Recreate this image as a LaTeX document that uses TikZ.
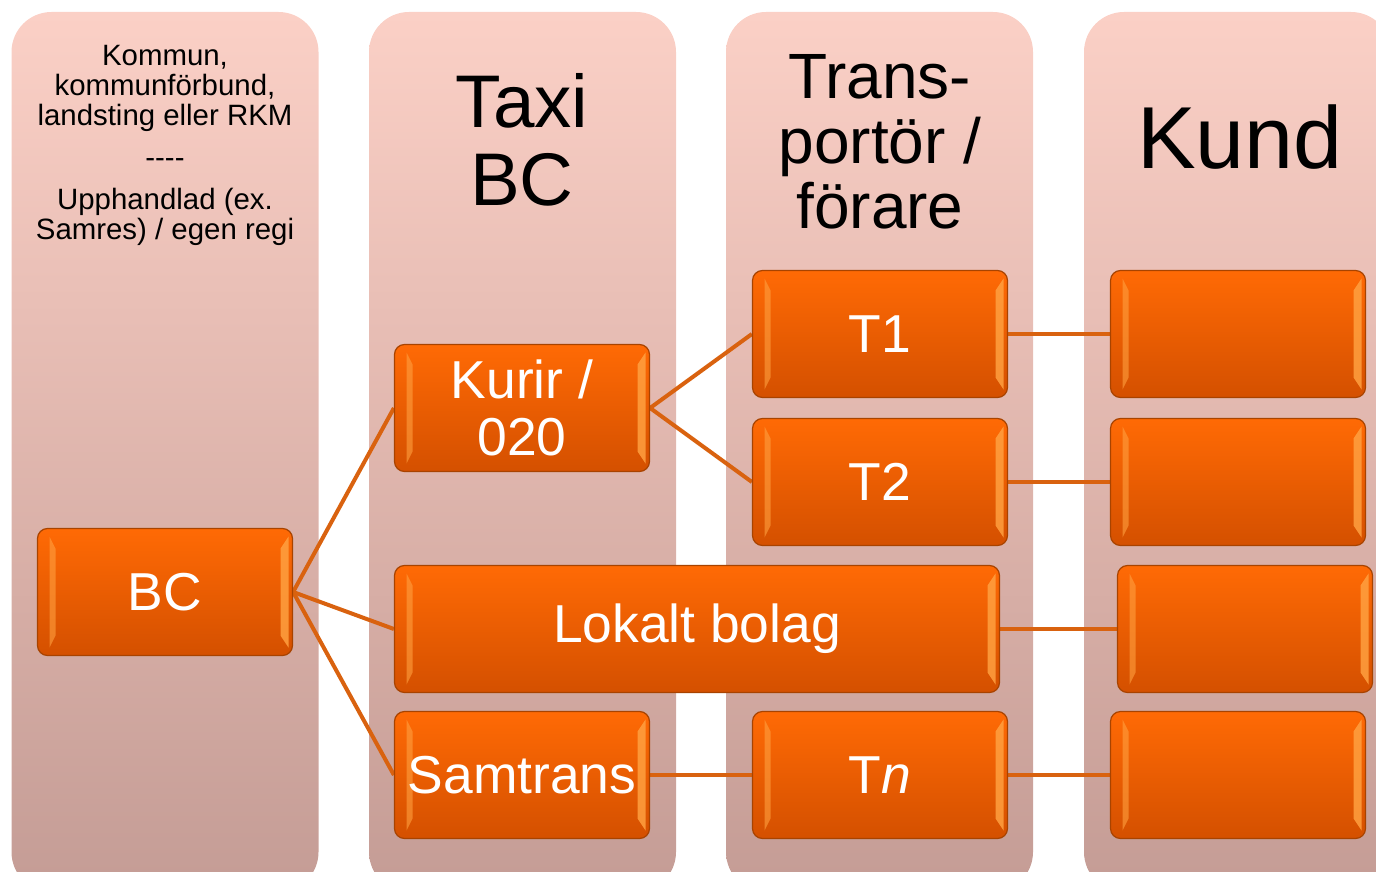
\documentclass[tikz,border=0pt]{standalone}
\usepackage{fontspec}
\setmainfont{Liberation Sans}
\usepackage{tikz}
\pgfdeclarelayer{columnlayer}
\pgfdeclarelayer{edgelayer}
\pgfdeclarelayer{nodelayer}
\pgfsetlayers{columnlayer,edgelayer,nodelayer,main}
\definecolor{colTop}{HTML}{FBD0C6}
\definecolor{colBottom}{HTML}{C49C95}
\definecolor{boxTop}{HTML}{FF6A05}
\definecolor{boxBottom}{HTML}{D45000}
\definecolor{boxLine}{HTML}{A84300}
\definecolor{boxLight}{HTML}{FFA040}
\definecolor{edgeCol}{HTML}{D9620F}
\tikzstyle{column} = [rounded corners=20pt, top color=colTop, bottom color=colBottom, minimum width=153.5pt, minimum height=440pt, inner sep=0pt]
\tikzstyle{box} = [draw=boxLine, line width=0.6pt, rounded corners=5pt, top color=boxTop, bottom color=boxBottom, text=white, font=\fontsize{26.7}{28.5}\selectfont, minimum width=127.5pt, minimum height=63.5pt, align=center, inner sep=0pt,
	path picture={
		\fill [boxLight, opacity=0.6, sharp corners] ([xshift=6pt, yshift=-4pt]path picture bounding box.north west) -- ([xshift=9pt, yshift=-10pt]path picture bounding box.north west) -- ([xshift=9pt, yshift=10pt]path picture bounding box.south west) -- ([xshift=6pt, yshift=4pt]path picture bounding box.south west) -- cycle;
		\fill [boxLight, opacity=0.85, sharp corners] ([xshift=-2pt, yshift=-4pt]path picture bounding box.north east) -- ([xshift=-6pt, yshift=-10pt]path picture bounding box.north east) -- ([xshift=-6pt, yshift=10pt]path picture bounding box.south east) -- ([xshift=-2pt, yshift=4pt]path picture bounding box.south east) -- cycle;
	}]
\tikzstyle{widebox} = [box, minimum width=302.5pt]
\tikzstyle{link} = [draw=edgeCol, line width=2pt]
\tikzstyle{none} = [inner sep=0pt, align=center]

\begin{document}
\begin{tikzpicture}[x=0.5pt, y=-0.5pt]
	\useasboundingbox (0, 0) rectangle (1376, 872);
	\clip (0, 0) rectangle (1376, 872);
	\begin{pgfonlayer}{columnlayer}
		\node [style=column] (col1) at (165, 452) {};
		\node [style=column] (col2) at (522.5, 452) {};
		\node [style=column] (col3) at (879.5, 452) {};
		\node [style=column] (col4) at (1237.5, 452) {};
	\end{pgfonlayer}
	\begin{pgfonlayer}{nodelayer}
		% column headings
		\node [style=none, font=\fontsize{14.7}{15}\selectfont] (head1) at (165, 145) {Kommun,\\kommunförbund,\\landsting eller RKM\\[6pt]{-}{-}{-}{-}\\[6pt]Upphandlad (ex.\\Samres) / egen regi};
		\node [style=none, font=\fontsize{37.3}{39}\selectfont] (head2) at (522, 140) {Taxi\\BC};
		\node [style=none, font=\fontsize{32}{32.5}\selectfont] (head3) at (880, 142) {Trans-\\portör /\\förare};
		\node [style=none, font=\fontsize{44}{44}\selectfont] (head4) at (1240, 137) {Kund};
		% boxes
		\node [style=box] (bc) at (165, 592) {BC};
		\node [style=box] (kurir) at (522, 408) {Kurir /\\020};
		\node [style=widebox] (lokalt) at (697, 629) {Lokalt bolag};
		\node [style=box] (samtrans) at (522, 775) {Samtrans};
		\node [style=box] (t1) at (880, 334) {T1};
		\node [style=box] (t2) at (880, 482) {T2};
		\node [style=box] (tn) at (880, 775) {T\textit{n}};
		\node [style=box] (k1) at (1238, 334) {};
		\node [style=box] (k2) at (1238, 482) {};
		\node [style=box] (k3) at (1245, 629) {};
		\node [style=box] (k4) at (1238, 775) {};
	\end{pgfonlayer}
	\begin{pgfonlayer}{edgelayer}
		\draw [style=link] (bc.east) to (kurir.west);
		\draw [style=link] (bc.east) to (lokalt.west);
		\draw [style=link] (bc.east) to (samtrans.west);
		\draw [style=link] (kurir.east) to (t1.west);
		\draw [style=link] (kurir.east) to (t2.west);
		\draw [style=link] (samtrans.east) to (tn.west);
		\draw [style=link] (t1.east) to (k1.west);
		\draw [style=link] (t2.east) to (k2.west);
		\draw [style=link] (lokalt.east) to (k3.west);
		\draw [style=link] (tn.east) to (k4.west);
	\end{pgfonlayer}
\end{tikzpicture}
\end{document}
